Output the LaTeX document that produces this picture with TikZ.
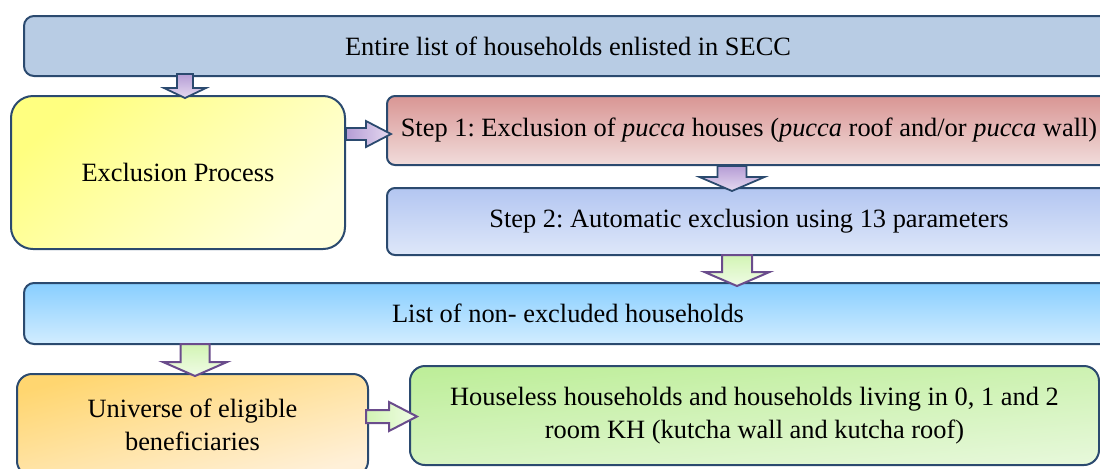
\documentclass[tikz,border=0pt]{standalone}
\usepackage{fontspec}
\setmainfont{Liberation Serif}
\usepackage{tikz}
\usetikzlibrary{calc}
\frenchspacing
\definecolor{edge}{HTML}{2B4A6F}
\definecolor{plum}{HTML}{6A4C8C}
\definecolor{secc}{HTML}{B8CCE4}
\definecolor{sunA}{HTML}{FFFF80}
\definecolor{sunB}{HTML}{FFFFDC}
\definecolor{roseA}{HTML}{D99694}
\definecolor{roseB}{HTML}{F1DCDB}
\definecolor{skyA}{HTML}{B3C6F1}
\definecolor{skyB}{HTML}{DEE7F9}
\definecolor{aquaA}{HTML}{88CEFF}
\definecolor{aquaB}{HTML}{D2EDFF}
\definecolor{peachA}{HTML}{FFD670}
\definecolor{peachB}{HTML}{FFF0D8}
\definecolor{leafA}{HTML}{BEEE9A}
\definecolor{leafB}{HTML}{E6F8D9}
\definecolor{lilacA}{HTML}{B59DD5}
\definecolor{lilacB}{HTML}{E6DAF1}
\definecolor{mintA}{HTML}{D2F4B4}
\definecolor{mintB}{HTML}{F0FCE6}
\tikzset{
  box/.style={draw=edge, line width=1pt, align=center, inner sep=0pt,
    font=\fontsize{13.2}{16.5}\selectfont},
  lilacdown/.style={draw=edge, line width=0.9pt, top color=lilacA, bottom color=lilacB},
  lilacright/.style={draw=edge, line width=0.9pt, left color=lilacA, right color=lilacB},
  mintdown/.style={draw=plum, line width=1pt, top color=mintA, bottom color=mintB},
  mintright/.style={draw=plum, line width=1pt, left color=mintA, right color=mintB}
}
% block arrow: [style]{from}{to}{shaft half width}{head half width}{head length}
\newcommand{\blockarrow}[6][]{%
  \draw[#1] let \p1=(#2), \p2=(#3),
    \n1={atan2(\y2-\y1,\x2-\x1)}, \n2={veclen(\x2-\x1,\y2-\y1)} in
    [shift={(\p1)}, rotate=\n1]
    (0pt,-#4) -- ({\n2*1pt-#6},-#4) -- ({\n2*1pt-#6},-#5) -- ({\n2*1pt},0pt)
    -- ({\n2*1pt-#6},#5) -- ({\n2*1pt-#6},#4) -- (0pt,#4) -- cycle;}

\begin{document}
\begin{tikzpicture}[x=0.5pt, y=-0.5pt]
  \useasboundingbox (0,0) rectangle (1100,468);

  \node[box, fill=secc, rounded corners=5pt, minimum width=544pt, minimum height=30pt]
    (secc) at (568,46) {Entire list of households enlisted in SECC};
  \node[box, top color=sunA, bottom color=sunB, shading angle=40, rounded corners=11pt,
    minimum width=167pt, minimum height=76.5pt]
    (excl) at (178,172.5) {Exclusion Process};
  \node[box, top color=roseA, bottom color=roseB, rounded corners=4pt,
    minimum width=362pt, minimum height=34.5pt]
    (step1) at (749,130.5) {Step 1: Exclusion of \textit{pucca} houses (\textit{pucca} roof and/or \textit{pucca} wall)};
  \node[box, top color=skyA, bottom color=skyB, rounded corners=4pt,
    minimum width=362pt, minimum height=33.5pt]
    (step2) at (749,221.5) {Step 2: Automatic exclusion using 13 parameters};
  \node[box, top color=aquaA, bottom color=aquaB, rounded corners=5pt,
    minimum width=544pt, minimum height=30.5pt]
    (nonex) at (568,313.5) {List of non- excluded households};
  \node[box, top color=peachA, bottom color=peachB, shading angle=15, rounded corners=7.5pt,
    minimum width=175.5pt, minimum height=51pt]
    (univ) at (192.5,425) {Universe of eligible\\beneficiaries};
  \node[box, top color=leafA, bottom color=leafB, shading angle=5, rounded corners=7.5pt,
    minimum width=344.5pt, minimum height=49.5pt]
    (kh) at (754.5,415.5) {Houseless households and households living in 0, 1 and 2\\room KH (kutcha wall and kutcha roof)};

  \blockarrow[lilacdown]{$(secc.south -| 185,0)+(0,-3)$}{$(excl.north -| 185,0)+(0,3)$}{4pt}{10.5pt}{5pt}
  \blockarrow[lilacright]{excl.east |- 0,134}{$(step1.west |- 0,134)+(5,0)$}{3pt}{6.5pt}{12.5pt}
  \blockarrow[lilacdown]{step1.south -| 732,0}{$(step2.north -| 732,0)+(0,4)$}{7.25pt}{16.25pt}{7pt}
  \blockarrow[mintdown]{$(step2.south -| 737,0)+(0,-1)$}{$(nonex.north -| 737,0)+(0,4)$}{7.5pt}{16.25pt}{7pt}
  \blockarrow[mintdown]{$(nonex.south -| 195,0)+(0,-1)$}{$(univ.north -| 195,0)+(0,3)$}{7.25pt}{16pt}{7pt}
  \blockarrow[mintright]{$(univ.east |- 0,416.5)+(-3,0)$}{$(kh.west |- 0,416.5)+(8,0)$}{3.25pt}{7.25pt}{14pt}
\end{tikzpicture}
\end{document}
